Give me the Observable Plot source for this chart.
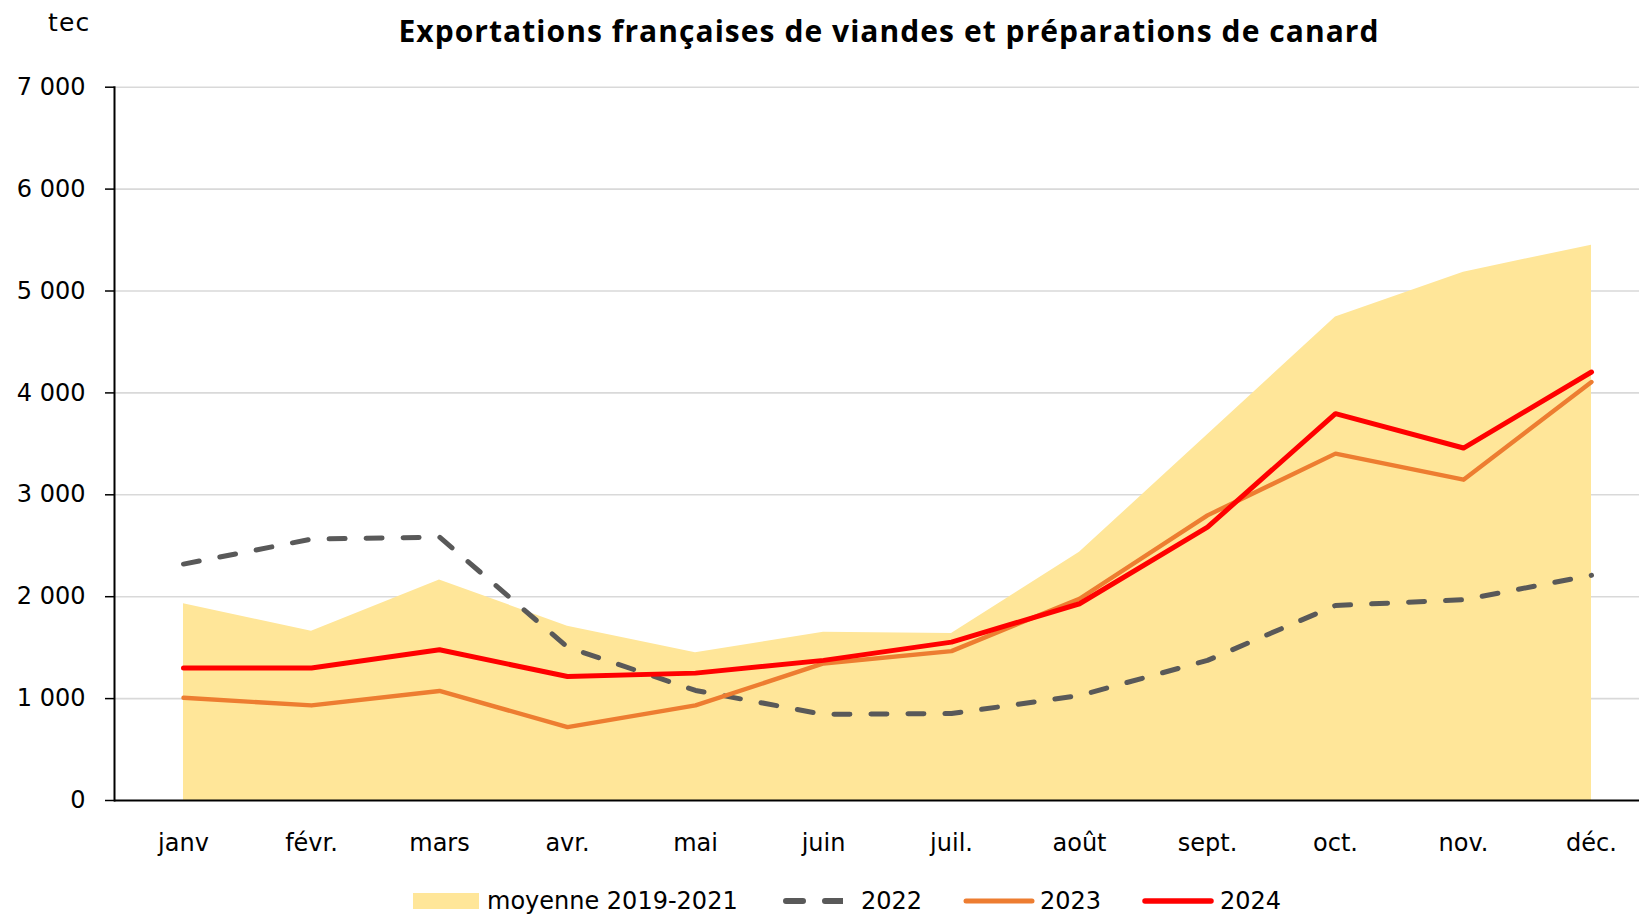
<!DOCTYPE html>
<html>
<head>
<meta charset="utf-8">
<script src="https://cdn.jsdelivr.net/npm/d3@7"></script>
<script src="https://cdn.jsdelivr.net/npm/@observablehq/plot@0.6"></script>
<style>
  html, body { margin: 0; padding: 0; background: #fff; }
  body { width: 1639px; height: 916px; overflow: hidden; font-family: "DejaVu Sans", sans-serif; color: #000; }
  #head { position: relative; height: 60px; }
  #title { position: absolute; left: 889px; top: 10px; transform: translateX(-50%); white-space: nowrap;
           font-family: "Open Sans", sans-serif; font-weight: 700; font-size: 30px; letter-spacing: 1.05px; line-height: 42px; }
  #unit { position: absolute; left: 48px; top: 7px; font-size: 25px; letter-spacing: 1.2px; line-height: 32px; }
  #legend { position: relative; height: 36px; }
  .item { position: absolute; top: 3px; height: 36px; display: flex; align-items: center; font-size: 24px; white-space: nowrap; }
  .item svg { display: block; }
</style>
</head>
<body>
<div id="head">
  <div id="unit">tec</div>
  <div id="title">Exportations françaises de viandes et préparations de canard</div>
</div>
<div id="chart"></div>
<div id="legend"></div>
<script>
const months = ["janv","févr.","mars","avr.","mai","juin","juil.","août","sept.","oct.","nov.","déc."];
const avg2019_2021 = [1930,1660,2165,1710,1450,1650,1640,2435,3590,4745,5185,5450];
const v2022 = [2320,2565,2585,1505,1080,845,853,1030,1375,1914,1970,2210];
const v2023 = [1008,933,1075,720,933,1345,1466,1980,2798,3404,3148,4107];
const v2024 = [1300,1300,1479,1217,1250,1375,1554,1931,2683,3796,3459,4205];
const yTicks = [0,1000,2000,3000,4000,5000,6000,7000];
const yTickLabels = ["0","1 000","2 000","3 000","4 000","5 000","6 000","7 000"];
const seriesNames = ["moyenne 2019-2021","2022","2023","2024"];

const colAvg = "#FFE699", col22 = "#595959", col23 = "#ED7D31", col24 = "#FF0000";

const rows = months.map((m, i) => ({month: m, avg: avg2019_2021[i], a: v2022[i], b: v2023[i], c: v2024[i]}));

const chart = Plot.plot({
  width: 1639,
  height: 820,
  marginTop: 26.7,
  marginBottom: 80,
  marginLeft: 114,
  marginRight: 0,
  style: {fontFamily: "DejaVu Sans, sans-serif", fontSize: "24px", color: "#000", background: "#fff"},
  x: {type: "point", domain: months, range: [179, 1594], padding: 0},
  y: {domain: [0, 7000]},
  marks: [
    Plot.gridY(yTicks.filter(d => d > 0), {stroke: "#d9d9d9", strokeOpacity: 1, strokeWidth: 1.6}),
    Plot.areaY(rows, {x: "month", y: "avg", fill: colAvg, curve: "linear"}),
    Plot.lineY(rows, {x: "month", y: "a", stroke: col22, strokeWidth: 5, strokeDasharray: "16,21", strokeLinecap: "round"}),
    Plot.lineY(rows, {x: "month", y: "b", stroke: col23, strokeWidth: 4.4}),
    Plot.lineY(rows, {x: "month", y: "c", stroke: col24, strokeWidth: 5}),
    Plot.ruleY([0], {stroke: "#000", strokeWidth: 2}),
    Plot.frame({anchor: "left", stroke: "#000", strokeWidth: 2}),
    Plot.axisY({ticks: yTicks, tickFormat: d => yTickLabels[yTicks.indexOf(d)], tickSize: 9, tickPadding: 20, stroke: "#000", strokeWidth: 1.5, fontSize: 24, label: null}),
    Plot.axisX({tickSize: 0, tickPadding: 33, fontSize: 24, label: null})
  ]
});
document.getElementById("chart").appendChild(chart);

// legend
const legend = document.getElementById("legend");
const items = [
  {left: 413, w: 66, kind: "area", color: colAvg, gap: 8, label: seriesNames[0]},
  {left: 783, w: 60, kind: "dash", color: col22, gap: 18, label: seriesNames[1]},
  {left: 963, w: 72, kind: "line", color: col23, gap: 5, label: seriesNames[2], sw: 5},
  {left: 1142, w: 72, kind: "line", color: col24, gap: 6, label: seriesNames[3], sw: 5.5}
];
for (const it of items) {
  const div = document.createElement("div");
  div.className = "item";
  div.style.left = it.left + "px";
  const svg = d3.create("svg").attr("width", it.w).attr("height", 20);
  if (it.kind === "area") {
    svg.append("rect").attr("x", 0).attr("y", 2).attr("width", it.w).attr("height", 16).attr("fill", it.color);
  } else if (it.kind === "dash") {
    svg.append("line").attr("x1", 3).attr("x2", it.w).attr("y1", 10).attr("y2", 10)
      .attr("stroke", it.color).attr("stroke-width", 6).attr("stroke-linecap", "round").attr("stroke-dasharray", "17,22");
  } else {
    svg.append("line").attr("x1", 3).attr("x2", it.w - 3).attr("y1", 10).attr("y2", 10)
      .attr("stroke", it.color).attr("stroke-width", it.sw).attr("stroke-linecap", "round");
  }
  div.appendChild(svg.node());
  const span = document.createElement("span");
  span.style.marginLeft = it.gap + "px";
  span.textContent = it.label;
  div.appendChild(span);
  legend.appendChild(div);
}
</script>
</body>
</html>
